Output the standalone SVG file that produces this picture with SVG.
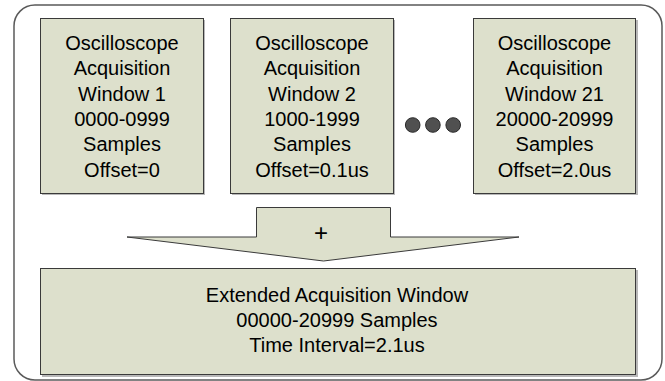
<svg xmlns="http://www.w3.org/2000/svg" width="665" height="381" viewBox="0 0 665 381">
<style>
.frame{fill:#ffffff;stroke:#5a5a5a;stroke-width:1.5}
.box{fill:#dde0cc;stroke:#3a3a3a;stroke-width:1}
.shadow{fill:#b8b8b8}
.t{font-family:"Liberation Sans",Arial,sans-serif;font-size:20px;fill:#000;text-anchor:middle}
.dot{fill:#505050;stroke:#2a2a2a;stroke-width:1}
</style>
<rect width="665" height="381" fill="#ffffff"/>
<rect class="frame" x="14" y="5" width="648" height="375" rx="21" ry="21"/>
<g id="window1">
<rect class="shadow" x="42" y="20" width="163" height="175"/>
<rect class="box" x="40.5" y="18.5" width="163" height="175"/>
<text class="t" x="122" y="50">Oscilloscope</text>
<text class="t" x="122" y="75.3">Acquisition</text>
<text class="t" x="122" y="100.6">Window 1</text>
<text class="t" x="122" y="126">0000-0999</text>
<text class="t" x="122" y="151.3">Samples</text>
<text class="t" x="122" y="176.6">Offset=0</text>
</g>
<g id="window2">
<rect class="shadow" x="232" y="20" width="163" height="175"/>
<rect class="box" x="230.5" y="18.5" width="163" height="175"/>
<text class="t" x="312" y="50">Oscilloscope</text>
<text class="t" x="312" y="75.3">Acquisition</text>
<text class="t" x="312" y="100.6">Window 2</text>
<text class="t" x="312" y="126">1000-1999</text>
<text class="t" x="312" y="151.3">Samples</text>
<text class="t" x="312" y="176.6">Offset=0.1us</text>
</g>
<g id="ellipsis">
<circle class="dot" cx="412.7" cy="125" r="7.3"/>
<circle class="dot" cx="432.9" cy="125" r="7.3"/>
<circle class="dot" cx="453.2" cy="125" r="7.3"/>
</g>
<g id="window21">
<rect class="shadow" x="475" y="20" width="163" height="175"/>
<rect class="box" x="473.5" y="18.5" width="162" height="175"/>
<text class="t" x="554.5" y="50">Oscilloscope</text>
<text class="t" x="554.5" y="75.3">Acquisition</text>
<text class="t" x="554.5" y="100.6">Window 21</text>
<text class="t" x="554.5" y="126">20000-20999</text>
<text class="t" x="554.5" y="151.3">Samples</text>
<text class="t" x="554.5" y="176.6">Offset=2.0us</text>
</g>
<g id="connectors">
<g id="plus-arrow">
<polygon class="box" points="256.5,207.5 390.5,207.5 390.5,237 519,237 323.5,261 127,237 256.5,237"/>
<text class="t" x="321" y="241" style="font-size:24px">+</text>
</g>
</g>
<g id="extended">
<rect class="shadow" x="42" y="270" width="596" height="107"/>
<rect class="box" x="40.5" y="268.5" width="595" height="106"/>
<text class="t" x="337" y="302.3">Extended Acquisition Window</text>
<text class="t" x="337" y="326.8">00000-20999 Samples</text>
<text class="t" x="337" y="351.6">Time Interval=2.1us</text>
</g>
</svg>
